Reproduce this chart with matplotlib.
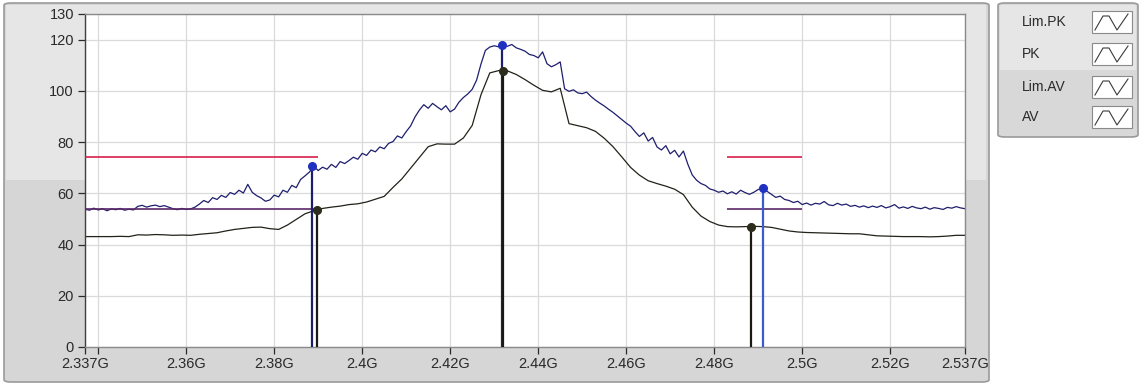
import matplotlib
matplotlib.use("Agg")
import matplotlib.pyplot as plt
import numpy as np
from matplotlib.patches import FancyBboxPatch, Rectangle

# --- data (frequency in GHz, level in dBuV) ---
f_start = 2.337
pk_step = 0.001
pk_vals = [
    53.8, 53.4, 54.2, 53.5, 54.0, 53.2, 53.9, 53.6, 54.1, 53.4,
    53.8, 53.5, 54.9, 55.3, 54.6, 55.1, 55.4, 54.8, 55.2, 54.6,
    54.0, 53.6, 54.1, 53.7, 53.9, 54.6, 55.8, 57.2, 56.4, 58.3,
    57.6, 59.2, 58.4, 60.3, 59.6, 61.2, 60.1, 63.5, 60.4, 59.1,
    58.2, 56.9, 57.4, 59.3, 58.6, 61.2, 60.4, 63.1, 62.2, 65.4,
    66.8, 68.3, 70.5, 68.9, 70.2, 69.4, 71.3, 70.1, 72.4, 71.6,
    72.8, 74.1, 73.3, 75.6, 74.8, 76.9, 76.2, 78.1, 77.4, 79.5,
    80.2, 82.4, 81.6, 84.1, 86.3, 89.8, 92.5, 94.6, 93.2, 95.1,
    93.8, 92.6, 94.2, 91.8, 92.9, 95.6, 97.4, 98.8, 100.6, 104.2,
    110.5, 115.8, 117.1, 117.6, 117.2, 118.0, 117.4, 118.1, 116.8, 116.2,
    115.5, 114.2, 113.8, 112.9, 115.2, 110.6, 109.4, 110.2, 111.3, 100.8,
    99.8, 100.4, 99.2, 98.9, 99.5, 97.8, 96.4, 95.2, 94.1, 92.8,
    91.6, 90.2, 88.8, 87.4, 86.2, 84.1, 82.2, 83.6, 80.4, 81.8,
    78.1, 76.9, 78.6, 75.4, 76.8, 74.2, 76.5, 71.4, 67.2, 65.1,
    63.8, 63.1, 61.7, 61.2, 60.4, 60.9, 59.8, 60.6, 59.7, 61.2,
    60.3, 59.6, 60.4, 61.5, 62.0, 60.8, 59.6, 58.4, 58.9, 57.6,
    57.2, 56.4, 56.9, 55.6, 56.2, 55.4, 56.1, 55.8, 56.8, 55.5,
    55.2, 56.1, 55.4, 55.8, 54.9, 55.3, 54.6, 55.1, 54.4, 55.0,
    54.5, 55.2, 54.3, 54.8, 55.6, 54.2, 54.7, 54.1, 54.9, 54.3,
    54.0, 54.6, 53.8, 54.4, 54.1, 53.7, 54.5, 54.2, 54.8, 54.3, 54.0,
]
av_step = 0.002
av_vals = [
    43.1, 43.1, 43.1, 43.1, 43.2, 43.1, 43.8, 43.7, 43.9, 43.8,
    43.6, 43.7, 43.6, 44.0, 44.3, 44.6, 45.3, 45.9, 46.3, 46.7,
    46.8, 46.2, 45.9, 47.6, 49.8, 52.0, 53.2, 54.1, 54.6, 55.0,
    55.6, 55.9, 56.6, 57.7, 58.8, 62.3, 65.6, 69.8, 74.0, 78.2,
    79.3, 79.2, 79.2, 81.6, 86.5, 98.5, 107.0, 107.9, 107.8, 106.4,
    104.4, 102.2, 100.2, 99.6, 101.0, 87.2, 86.4, 85.6, 84.2, 81.5,
    78.2, 74.2, 70.1, 67.1, 64.9, 63.8, 62.8, 61.6, 59.5, 54.6,
    51.1, 49.0, 47.6, 47.0, 46.9, 47.0, 47.1, 47.0, 46.7, 46.0,
    45.3, 44.9, 44.7, 44.6, 44.5, 44.4, 44.3, 44.2, 44.2, 43.8,
    43.4, 43.3, 43.2, 43.1, 43.1, 43.1, 43.0, 43.1, 43.3, 43.6, 43.6,
]

# limit segments
lim_pk_start = [2.337, 2.483]
lim_pk_stop = [2.390, 2.500]
lim_pk_level = [74, 74]
lim_av_start = [2.337, 2.483]
lim_av_stop = [2.390, 2.500]
lim_av_level = [54, 54]

# markers
pk_mark_freq = [2.3885, 2.4318, 2.4912]
pk_mark_val = [70.5, 118.0, 62.2]
av_mark_freq = [2.3897, 2.4320, 2.4884]
av_mark_val = [53.6, 107.6, 47.0]

x_ticks = [2.337, 2.34, 2.36, 2.38, 2.4, 2.42, 2.44, 2.46, 2.48, 2.5, 2.52, 2.537]
x_labels = ['2.337G', '', '2.36G', '2.38G', '2.4G', '2.42G', '2.44G', '2.46G',
            '2.48G', '2.5G', '2.52G', '2.537G']
y_ticks = [0, 20, 40, 60, 80, 100, 120, 130]
legend_names = ['Lim.PK', 'PK', 'Lim.AV', 'AV']

W, H = 1141, 385
plt.rcParams['font.family'] = ['Liberation Sans', 'DejaVu Sans']

fig = plt.figure(figsize=(W / 100, H / 100), dpi=100)
fig.patch.set_facecolor('white')


def fx(px):  # pixel -> figure coords
    return px / W


def fy(py):
    return 1 - py / H


# outer grey frame (lighter top, darker lower part)
frame = FancyBboxPatch((fx(4), fy(382)), fx(989) - fx(4), fy(3) - fy(382),
                       boxstyle="round,pad=0,rounding_size=0.006",
                       transform=fig.transFigure, facecolor='#d6d6d6',
                       edgecolor='#9a9a9a', lw=1.2, zorder=0)
fig.add_artist(frame)
fig.add_artist(Rectangle((fx(6), fy(180)), fx(986) - fx(6), fy(5) - fy(180),
                         transform=fig.transFigure, facecolor='#e6e6e6',
                         edgecolor='none', zorder=0.5))

# legend box
leg = FancyBboxPatch((fx(998), fy(137)), fx(1138) - fx(998), fy(3) - fy(137),
                     boxstyle="round,pad=0,rounding_size=0.006",
                     transform=fig.transFigure, facecolor='#d8d8d8',
                     edgecolor='#9a9a9a', lw=1.2, zorder=0)
fig.add_artist(leg)
fig.add_artist(Rectangle((fx(1000), fy(70)), fx(1136) - fx(1000), fy(5) - fy(70),
                         transform=fig.transFigure, facecolor='#e6e6e6',
                         edgecolor='none', zorder=0.5))
row_y = [22, 54, 87, 117]
for name, ry in zip(legend_names, row_y):
    fig.text(fx(1022), fy(ry), name, fontsize=10, color='#2a2a2a',
             va='center', ha='left', zorder=2)
    fig.add_artist(Rectangle((fx(1092), fy(ry + 11)), fx(40), fy(0) - fy(22),
                             transform=fig.transFigure, facecolor='white',
                             edgecolor='#8a8a8a', lw=0.8, zorder=1))
    zx = [1095, 1103, 1109, 1117, 1128]
    zy = [ry + 8, ry - 6, ry - 6, ry + 8, ry - 8]
    fig.add_artist(plt.Line2D([fx(p) for p in zx], [fy(p) for p in zy],
                              transform=fig.transFigure, color='#3a3a3a',
                              lw=0.8, zorder=2))

# plot area
ax = fig.add_axes([fx(85), fy(347), fx(965) - fx(85), fy(14) - fy(347)])
ax.set_facecolor('white')
ax.set_zorder(1)

pk_freq = f_start + pk_step * np.arange(len(pk_vals))
av_freq = f_start + av_step * np.arange(len(av_vals))

ax.plot(pk_freq, pk_vals, color='#1e1e6e', lw=0.9, zorder=2)
ax.plot(av_freq, av_vals, color='#22221a', lw=0.9, zorder=2)

ax.hlines(lim_pk_level, lim_pk_start, lim_pk_stop, color='#d81e4a', lw=1.2, zorder=3)
ax.hlines(lim_av_level, lim_av_start, lim_av_stop, color='#5a2868', lw=1.2, zorder=3)

# marker lines and dots
pk_line_cols = ['#1e1e6e', '#1e1e6e', '#3a5ad6']
for f, v, c in zip(pk_mark_freq, pk_mark_val, pk_line_cols):
    ax.vlines(f, 0, v, color=c, lw=1.6, zorder=4)
for f, v in zip(av_mark_freq, av_mark_val):
    ax.vlines(f, 0, v, color='#1a1a14', lw=1.6, zorder=4)
ax.plot(pk_mark_freq, pk_mark_val, 'o', color='#2030c0', ms=5.5, zorder=5)
ax.plot(av_mark_freq, av_mark_val, 'o', color='#2c2c1c', ms=5.5, zorder=5)

ax.set_xlim(2.337, 2.537)
ax.set_ylim(0, 130)
ax.set_xticks(x_ticks)
ax.set_xticklabels(x_labels)
ax.set_yticks(y_ticks)
ax.grid(True, color='#dadada', lw=0.9)
ax.set_axisbelow(True)
ax.tick_params(axis='both', labelsize=10.5, colors='#2a2a2a', length=5,
               width=0.9, pad=3)
ax.tick_params(axis='x', pad=2)
for s in ax.spines.values():
    s.set_color('#8a8a8a')
    s.set_linewidth(1.0)
ax.spines['left'].set_color('#404040')

fig.savefig('out.png', dpi=100, facecolor=fig.get_facecolor())
